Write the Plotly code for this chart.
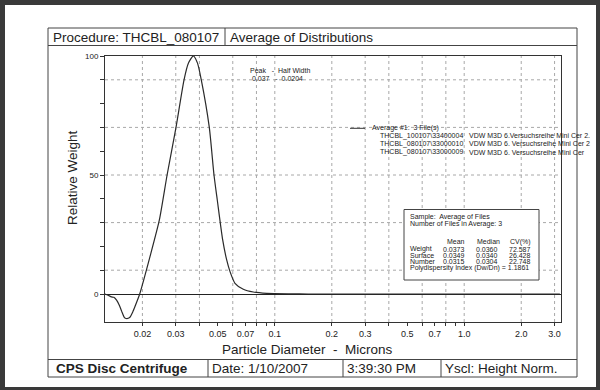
import numpy as np
import plotly.graph_objects as go

# ---------------- data ----------------
diameter = [0.01262, 0.01316, 0.01372, 0.01413, 0.01461, 0.01510, 0.01555, 0.01608,
            0.01642, 0.01712, 0.01784, 0.01862, 0.01935, 0.02193, 0.02456, 0.02700,
            0.03009, 0.03317, 0.03497, 0.03713, 0.03907, 0.04091, 0.04510, 0.04775,
            0.04971, 0.05307, 0.05572, 0.05802, 0.06164, 0.06819, 0.07699, 0.09062,
            0.12, 0.15, 0.3, 1.0, 3.2]
rel_weight = [0, -0.5, -1.2, -1.4, -2.6, -4.7, -7.3, -9.9,
              -10.3, -9.9, -7.3, -3.6, 0, 15.7, 31.0, 50,
              70, 90, 97, 100, 97, 90, 70, 50,
              39.4, 22.7, 14.3, 9.4, 4.5, 2.0, 0.84, 0.3,
              0.08, 0, 0, 0, 0]

x_tickvals = [0.02, 0.03, 0.04, 0.05, 0.06, 0.07, 0.08, 0.09, 0.1, 0.2, 0.3, 0.4,
              0.5, 0.6, 0.7, 0.8, 0.9, 1.0, 2.0, 3.0]
x_ticktext = ["0.02", "0.03", "", "0.05", "", "0.07", "", "", "0.1", "0.2", "0.3", "",
              "0.5", "", "0.7", "", "", "1.0", "2.0", "3.0"]
x_gridvals = [0.02, 0.03, 0.04, 0.06, 0.08, 0.1, 0.2, 0.3, 0.4, 0.6, 0.8, 1.0, 2.0, 3.0]
y_tickvals = [0, 10, 20, 30, 40, 50, 60, 70, 80, 90, 100]
y_ticktext = ["0", "", "", "", "", "50", "", "", "", "", "100"]
y_gridvals = [10, 30, 50, 70, 90]

legend_files = ["THCBL_100107\\33400004", "THCBL_080107\\33000010", "THCBL_080107\\33000009"]
legend_desc = ["VDW M3D 6.Versuchsreihe Mini Cer 2.", "VDW M3D 6. Versuchsreihe Mini Cer 2",
               "VDW M3D 6. Versuchsreihe Mini Cer"]
stat_rows = ["Weight", "Surface", "Number"]
stat_mean = ["0.0373", "0.0349", "0.0315"]
stat_median = ["0.0360", "0.0340", "0.0304"]
stat_cv = ["72.587", "26.428", "22.748"]

# ---------------- layout helpers ----------------
W, H = 600, 390
L, R, T, B = 105, 39, 56, 68
PW, PH = W - L - R, H - T - B


def px(x):
    return (x - L) / PW


def py(y):
    return (H - B - y) / PH


FONT = "Arial, Liberation Sans, sans-serif"
DARK = "#3a3a3a"
INK = "#222222"

fig = go.Figure()
fig.add_trace(go.Scatter(x=diameter, y=rel_weight, mode="lines",
                         line=dict(color="#2a2a2a", width=1.2, shape="spline", smoothing=0.6),
                         hoverinfo="skip", showlegend=False))

shapes = []
# white page
shapes.append(dict(type="rect", xref="paper", yref="paper", x0=px(5), x1=px(596), y0=py(387), y1=py(5),
                   fillcolor="white", line=dict(width=0), layer="below"))
# grid lines
for gv in x_gridvals:
    shapes.append(dict(type="line", xref="x", yref="paper", x0=gv, x1=gv, y0=0, y1=1,
                       line=dict(color="#a8a8a8", width=1, dash="dot"), layer="below"))
for gv in y_gridvals:
    shapes.append(dict(type="line", xref="paper", yref="y", x0=0, x1=1, y0=gv, y1=gv,
                       line=dict(color="#a8a8a8", width=1, dash="dot"), layer="below"))
# document frame
fl = dict(color="#444444", width=1)
shapes.append(dict(type="rect", xref="paper", yref="paper", x0=px(48), x1=px(577), y0=py(377), y1=py(28), line=fl))
shapes.append(dict(type="line", xref="paper", yref="paper", x0=px(48), x1=px(577), y0=py(45.5), y1=py(45.5), line=fl))
shapes.append(dict(type="line", xref="paper", yref="paper", x0=px(225), x1=px(225), y0=py(45.5), y1=py(28), line=fl))
shapes.append(dict(type="line", xref="paper", yref="paper", x0=px(48), x1=px(577), y0=py(359.5), y1=py(359.5), line=fl))
for dx in (208, 343, 441):
    shapes.append(dict(type="line", xref="paper", yref="paper", x0=px(dx), x1=px(dx), y0=py(377), y1=py(359.5), line=fl))
# legend line sample
shapes.append(dict(type="line", xref="paper", yref="paper", x0=px(350), x1=px(365), y0=py(128.3), y1=py(128.3),
                   line=dict(color="#333333", width=1)))
# stats box
shapes.append(dict(type="rect", xref="paper", yref="paper", x0=px(404), x1=px(539), y0=py(280), y1=py(209.5),
                   fillcolor="white", line=dict(color="#444444", width=1)))
fig.update_layout(shapes=shapes)

ann = []


def text(x, y, s, size, anchor="left", bold=False, angle=0):
    if bold:
        s = "<b>" + s + "</b>"
    ann.append(dict(xref="paper", yref="paper", x=px(x), y=py(y), text=s, showarrow=False,
                    xanchor=anchor, yanchor="middle", textangle=angle, borderpad=0,
                    font=dict(family=FONT, size=size, color=INK)))


text(52, 37, "Procedure: THCBL_080107", 13.5)
text(229, 37, "Average of Distributions", 13.5)
text(55, 368.5, "CPS Disc Centrifuge", 13.5, bold=True)
text(211, 368.5, "Date: 1/10/2007", 13.5)
text(346, 368.5, "3:39:30 PM", 13.5)
text(444, 368.5, "Yscl: Height Norm.", 13.5)
text(307, 349, "Particle Diameter  -  Microns", 13.5, anchor="center")
text(72, 178, "Relative Weight", 13.5, anchor="center", angle=-90)

text(249, 70.5, "Peak   -  Half Width", 7)
text(251, 78, "0.037   -  0.0204", 7)

text(371, 128.3, "Average #1:  3 File(s)", 7)
for i, (f, d) in enumerate(zip(legend_files, legend_desc)):
    yy = 135.8 + i * 8.1
    text(379, yy, f, 7)
    text(468, yy, d, 7)

text(409, 217.3, "Sample:  Average of Files", 7)
text(409, 224.2, "Number of Files in Average: 3", 7)
text(456, 241.7, "Mean", 7, anchor="center")
text(488, 241.7, "Median", 7, anchor="center")
text(520, 241.7, "CV(%)", 7, anchor="center")
for i in range(3):
    yy = 249.3 + i * 6.1
    text(409, yy, stat_rows[i], 7)
    text(453.5, yy, stat_mean[i], 7, anchor="center")
    text(486.5, yy, stat_median[i], 7, anchor="center")
    text(520, yy, stat_cv[i], 7, anchor="center")
text(409, 267.6, "Polydispersity Index (Dw/Dn) = 1.1861", 7)
fig.update_layout(annotations=ann)

x_lo = -1 - (274.8 - L) / 189.4
x_hi = -1 + (W - R - 274.8) / 189.4
y_lo = -(H - B - 294) / 2.38

fig.update_layout(
    width=W, height=H,
    margin=dict(l=L, r=R, t=T, b=B, pad=0),
    paper_bgcolor=DARK, plot_bgcolor="white",
    font=dict(family=FONT, color=INK),
    xaxis=dict(type="log", range=[x_lo, x_hi], tickmode="array", tickvals=x_tickvals, ticktext=x_ticktext,
               ticks="outside", ticklen=3, tickcolor="#333333", tickwidth=1,
               showgrid=False, zeroline=False, showline=True, mirror=True, linecolor="#333333", linewidth=1,
               tickfont=dict(size=9, family=FONT, color=INK), fixedrange=True),
    yaxis=dict(range=[y_lo, 100], tickmode="array", tickvals=y_tickvals, ticktext=y_ticktext,
               ticks="outside", ticklen=4, tickcolor="#333333", tickwidth=1,
               showgrid=False, zeroline=True, zerolinecolor="#222222", zerolinewidth=1,
               showline=True, mirror=True, linecolor="#333333", linewidth=1,
               tickfont=dict(size=8, family=FONT, color=INK), fixedrange=True),
    showlegend=False,
)

fig.write_html("out.html", config={"displayModeBar": False},
               post_script="document.body.style.margin='0px';document.body.style.background='%s';" % DARK)
